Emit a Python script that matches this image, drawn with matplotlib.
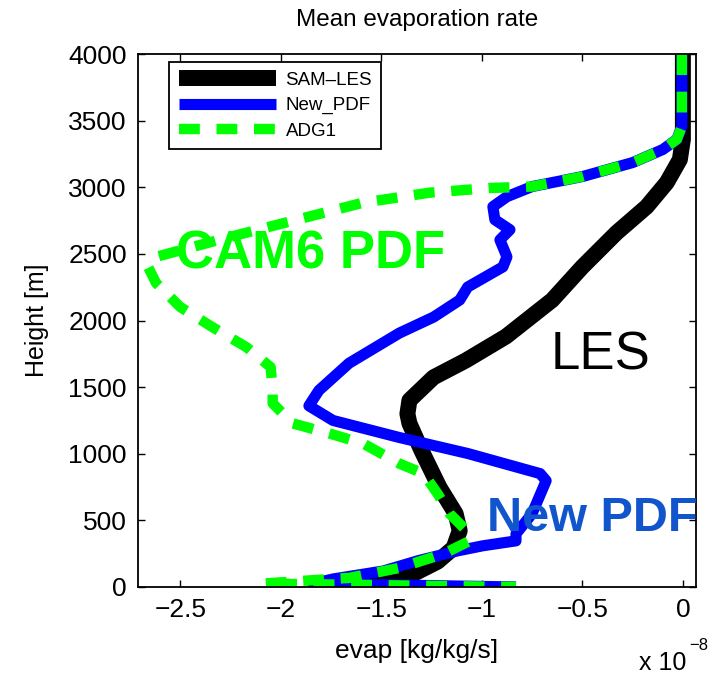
import matplotlib
matplotlib.use("Agg")
import matplotlib.pyplot as plt

plt.rcParams['font.family'] = ['Liberation Sans', 'DejaVu Sans']

# ---- data (evap in units of 1e-8 kg/kg/s, height in m) ----
les_x = [0.0, 0.0, -0.015, -0.08, -0.18, -0.33, -0.50, -0.65, -0.88, -1.08, -1.24,
         -1.36, -1.37, -1.36, -1.30, -1.21, -1.13, -1.11, -1.14, -1.22, -1.34,
         -1.49, -1.62, -1.75]
les_z = [4000, 3360, 3209, 3036, 2855, 2659, 2403, 2154, 1880, 1700, 1574,
         1401, 1300, 1228, 1024, 746, 550, 422, 294, 190, 98,
         60, 35, 15]

pdf_x = [-0.005, -0.005, -0.03, -0.10, -0.25, -0.50, -0.75, -0.875, -0.945, -0.935,
         -0.86, -0.91, -0.875, -0.895, -1.07, -1.11, -1.24, -1.41, -1.66, -1.81,
         -1.86, -1.74, -1.41, -1.07, -0.71, -0.68, -0.75, -0.83, -0.83, -0.995,
         -1.12, -1.32, -1.49, -1.74, -1.84, -0.83]
pdf_z = [4000, 3458, 3360, 3284, 3186, 3081, 3006, 2930, 2855, 2757,
         2682, 2606, 2478, 2403, 2252, 2154, 2026, 1906, 1680, 1476,
         1360, 1250, 1122, 1002, 851, 798, 550, 399, 346, 309,
         271, 196, 120, 60, 25, 0]

adg_x = [-0.005, -0.005, -0.03, -0.10, -0.25, -0.50, -0.75, -0.96, -1.26, -1.59,
         -1.92, -2.25, -2.62, -2.66, -2.62, -2.50, -2.34, -2.17, -2.05, -2.04,
         -2.04, -1.94, -1.76, -1.59, -1.41, -1.29, -1.22, -1.16, -1.075, -1.06,
         -1.19, -1.41, -1.66, -1.90, -2.09, -0.83]
adg_z = [4000, 3458, 3360, 3284, 3186, 3081, 3006, 2995, 2960, 2885,
         2757, 2629, 2478, 2403, 2282, 2102, 1951, 1800, 1650, 1476,
         1378, 1228, 1153, 1077, 926, 851, 700, 550, 422, 346,
         249, 143, 68, 45, 25, 0]

labels = ['SAM\u2013LES', 'New_PDF', 'ADG1']
xticks = [-2.5, -2, -1.5, -1, -0.5, 0]
xticklabels = ['\u22122.5', '\u22122', '\u22121.5', '\u22121', '\u22120.5', '0']
yticks = [0, 500, 1000, 1500, 2000, 2500, 3000, 3500, 4000]

fig = plt.figure(figsize=(7.16, 6.77), dpi=100)
ax = fig.add_axes([0.1927, 0.133, 0.7793, 0.787])

ax.plot(les_x, les_z, color='black', lw=11.5, solid_capstyle='butt',
        solid_joinstyle='round', label=labels[0])
ax.plot(pdf_x, pdf_z, color='#0000ff', lw=8, solid_capstyle='butt',
        solid_joinstyle='round', label=labels[1])
ax.plot(adg_x, adg_z, color='#00ff00', lw=7.5, dashes=(2.0, 1.6), dash_capstyle='butt',
        dash_joinstyle='round', label=labels[2])

ax.set_xlim(-2.71, 0.065)
ax.set_ylim(0, 4000)
ax.set_xticks(xticks)
ax.set_xticklabels(xticklabels)
ax.set_yticks(yticks)
ax.tick_params(direction='in', length=5, width=1, top=True, right=True,
               labelsize=19, pad=8)
for s in ax.spines.values():
    s.set_linewidth(1.3)

ax.set_title('Mean evaporation rate', fontsize=17.5, pad=20)
ax.set_xlabel('evap [kg/kg/s]', fontsize=19, labelpad=12)
ax.set_ylabel('Height [m]', fontsize=18, labelpad=14)

leg = ax.legend(loc='upper left', bbox_to_anchor=(0.056, 0.985), fontsize=13.5,
                fancybox=False, framealpha=1, edgecolor='black', handlelength=5.2,
                borderpad=0.5, labelspacing=0.45, handletextpad=0.5,
                borderaxespad=0)
leg.get_frame().set_linewidth(1.3)

fig.text(0.893, 0.003, 'x 10', fontsize=18, ha='left', va='bottom')
fig.text(0.962, 0.036, '\u22128', fontsize=12, ha='left', va='bottom')

ax.text(-1.85, 2493, 'CAM6 PDF', color='#00ff00', fontsize=38, fontweight='bold',
        ha='center', va='center')
ax.text(-0.41, 1740, 'LES', color='black', fontsize=38, ha='center', va='center')
ax.text(-0.45, 512, 'New PDF', color='#1155cc', fontsize=35, fontweight='bold',
        ha='center', va='center', clip_on=False)

fig.savefig('out.png', dpi=100)
